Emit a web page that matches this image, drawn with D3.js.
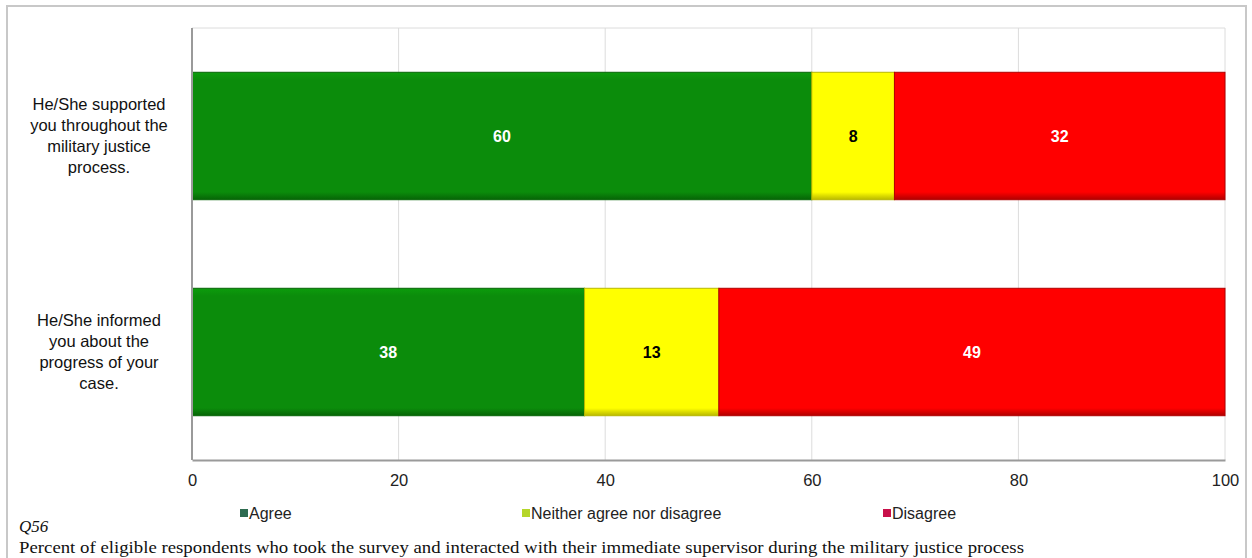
<!DOCTYPE html>
<html><head><meta charset="utf-8">
<script src="https://cdn.jsdelivr.net/npm/d3@7"></script>
<style>body{margin:0;background:#fff}svg{display:block}</style>
</head><body>
<svg id="c" width="1252" height="558"></svg>
<script>
const categories = ["He/She supported you throughout the military justice process.", "He/She informed you about the progress of your case."];
const categoryLines = [["He/She supported","you throughout the","military justice","process."],["He/She informed","you about the","progress of your","case."]];
const seriesNames = ["Agree", "Neither agree nor disagree", "Disagree"];
const agree = [60, 38];
const neither = [8, 13];
const disagree = [32, 49];
const xTicks = [0, 20, 40, 60, 80, 100];
const question = "Q56";
const caption = "Percent of eligible respondents who took the survey and interacted with their immediate supervisor during the military justice process";

(function(){
const colors = ["#0b8c0b", "#ffff00", "#ff0000"];
const edgeColors = ["#066406", "#b8b800", "#b00000"];
const labelColors = ["#fff", "#000", "#fff"];
const legendColors = ["#2e6b4f", "#b5d62a", "#c8104a"];
const sans = "Liberation Sans, Arial, sans-serif";
const serif = "Liberation Serif, Times New Roman, serif";

const svg = d3.select("#c");
svg.append("rect").attr("x",7).attr("y",6).attr("width",1239).attr("height",556)
  .attr("fill","none").attr("stroke","#c8c8c8").attr("stroke-width",2);

const pL=192, pR=1225, pT=28, pB=460;
const x = d3.scaleLinear().domain([0,100]).range([pL,pR]);
const y = d3.scaleBand().domain(categories).range([pT,pB]).paddingInner(0.41).paddingOuter(0.205);

svg.append("g").selectAll("line").data(xTicks.filter(d=>d>0)).join("line")
  .attr("x1",d=>x(d)).attr("x2",d=>x(d)).attr("y1",pT).attr("y2",pB)
  .attr("stroke","#dcdcdc").attr("stroke-width",1);
svg.append("line").attr("x1",pL).attr("x2",pR).attr("y1",pT).attr("y2",pT).attr("stroke","#dcdcdc");

const stackData = categories.map((c,i)=>({cat:c, Agree:agree[i], "Neither agree nor disagree":neither[i], Disagree:disagree[i]}));
const stacked = d3.stack().keys(seriesNames)(stackData);

const defs = svg.append("defs");
colors.forEach((c,i)=>{
  const g = defs.append("linearGradient").attr("id","g"+i).attr("x1",0).attr("x2",0).attr("y1",0).attr("y2",1);
  g.append("stop").attr("offset","0%").attr("stop-color",d3.color(c).brighter(0.3));
  g.append("stop").attr("offset","6%").attr("stop-color",c);
  g.append("stop").attr("offset","94%").attr("stop-color",c);
  g.append("stop").attr("offset","100%").attr("stop-color",edgeColors[i]);
});

stacked.forEach((s,si)=>{
  const g = svg.append("g");
  g.selectAll("rect").data(s).join("rect")
    .attr("x",d=>x(d[0])).attr("width",d=>x(d[1])-x(d[0]))
    .attr("y",d=>y(d.data.cat)).attr("height",y.bandwidth())
    .attr("fill","url(#g"+si+")").attr("stroke",edgeColors[si]).attr("stroke-width",1);
  g.selectAll("text").data(s).join("text")
    .attr("x",d=>(x(d[0])+x(d[1]))/2).attr("y",d=>y(d.data.cat)+y.bandwidth()/2)
    .attr("dy","0.35em").attr("text-anchor","middle")
    .attr("font-family",sans).attr("font-weight","bold").attr("font-size",16)
    .attr("fill",labelColors[si]).text(d=>d[1]-d[0]);
});

const xa = svg.append("g").attr("transform",`translate(0,${pB})`)
  .call(d3.axisBottom(x).tickValues(xTicks).tickSize(0).tickPadding(14));
xa.select(".domain").attr("stroke","#9a9a9a").attr("stroke-width",2);
xa.selectAll("text").attr("font-family",sans).attr("font-size",16.5).attr("fill","#222");
svg.append("line").attr("x1",pL).attr("x2",pL).attr("y1",pT).attr("y2",pB).attr("stroke","#9a9a9a").attr("stroke-width",2);

categories.forEach((c,i)=>{
  const lines = categoryLines[i];
  const cy = y(c)+y.bandwidth()/2;
  const t = svg.append("text").attr("text-anchor","middle")
    .attr("font-family",sans).attr("font-size",16.5).attr("fill","#111");
  lines.forEach((l,j)=>{
    t.append("tspan").attr("x",99).attr("y",cy+(j-(lines.length-1)/2)*21).attr("dy","0.35em").text(l);
  });
});

const legX = [240, 522, 883];
seriesNames.forEach((n,i)=>{
  svg.append("rect").attr("x",legX[i]).attr("y",509).attr("width",8).attr("height",8).attr("fill",legendColors[i]);
  svg.append("text").attr("x",legX[i]+9).attr("y",513).attr("dy","0.35em")
    .attr("font-family",sans).attr("font-size",16).attr("fill","#222").text(n);
});

svg.append("text").attr("x",19).attr("y",532).attr("font-family",serif)
  .attr("font-style","italic").attr("font-size",17).attr("fill","#111").text(question);
svg.append("text").attr("x",19).attr("y",553).attr("font-family",serif)
  .attr("font-size",17).attr("textLength",1005).attr("lengthAdjust","spacingAndGlyphs")
  .attr("fill","#111").text(caption);
})();
</script>
</body></html>
